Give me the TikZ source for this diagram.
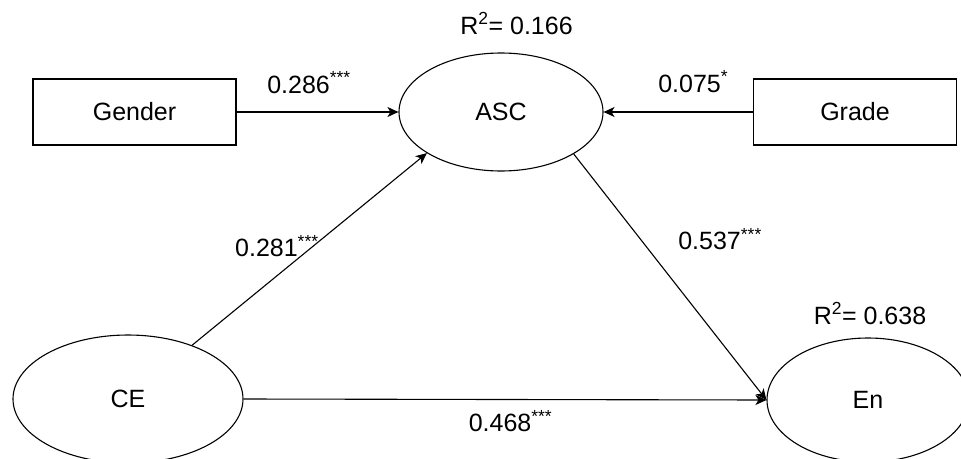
\documentclass[tikz,border=0pt]{standalone}
\usepackage{fontspec}
\setmainfont{Liberation Sans}
\usepackage{tikz}
\usetikzlibrary{arrows.meta,shapes.geometric}
\definecolor{txt}{HTML}{000000}

\begin{document}
\begin{tikzpicture}[
  x=1pt, y=-1pt,
  >={Stealth[length=11pt, width=10pt, inset=3pt]},
  font=\fontsize{25}{29}\selectfont,
  latent/.style={draw=txt, ellipse, line width=1.1pt, inner sep=0pt, align=center},
  observed/.style={draw=txt, rectangle, line width=1.1pt, minimum width=203pt, minimum height=66pt, inner sep=0pt, align=center},
  arr/.style={->, line width=1.1pt, color=txt},
  elbl/.style={text=txt, inner sep=0pt, anchor=base},
  rsq/.style={text=txt, inner sep=0pt, anchor=base},
]

\clip (0,0) rectangle (961,458);

\node[observed] (gender) at (134.5, 112) {Gender};
\node[latent, minimum width=204pt, minimum height=118pt] (asc) at (501, 112) {ASC};
\node[observed] (grade) at (855, 112) {Grade};
\node[latent, minimum width=230pt, minimum height=128pt] (ce) at (128, 399) {CE};
\node[latent, minimum width=202pt, minimum height=124pt] (en) at (868, 400) {En};

\node[rsq] (r2asc) at (516.5, 34) {R\textsuperscript{2}= 0.166};
\node[rsq] (r2en) at (870, 324) {R\textsuperscript{2}= 0.638};

\draw[arr] (gender.east) -- node[elbl, xshift=-8.5pt, yshift=19pt] {0.286\textsuperscript{***}} (asc.west);
\draw[arr] (grade.west) -- node[elbl, xshift=15pt, yshift=20pt] {0.075\textsuperscript{*}} (asc.east);
\draw[arr] (ce.40) -- node[elbl, xshift=-32.5pt, yshift=-7.7pt] {0.281\textsuperscript{***}} (asc.209);
\draw[arr] (asc.-30) -- node[elbl, xshift=50pt, yshift=27pt] {0.537\textsuperscript{***}} (en.west);
\draw[arr] (ce.east) -- node[elbl, xshift=5.5pt, yshift=-32pt] {0.468\textsuperscript{***}} (en.west);

\end{tikzpicture}
\end{document}
